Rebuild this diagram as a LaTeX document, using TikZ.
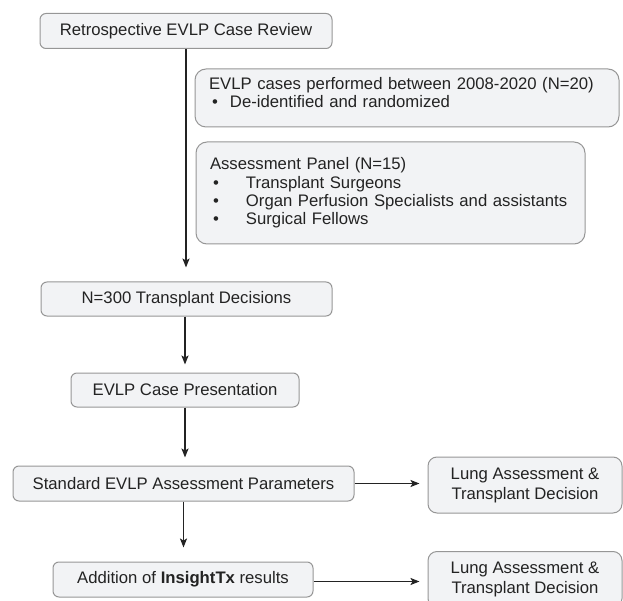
\documentclass[tikz,border=0pt]{standalone}
\usepackage{fontspec}
\setmainfont{Liberation Sans}
\usepackage{xcolor}
\usepackage{tikz}
\usetikzlibrary{positioning,arrows.meta}
\definecolor{boxfill}{RGB}{242,243,245}
\definecolor{boxline}{RGB}{150,150,150}
\definecolor{inkcolor}{RGB}{35,35,35}
\tikzset{
  flow box/.style={
    rectangle,
    rounded corners=6pt,
    draw=boxline,
    fill=boxfill,
    line width=1pt,
    text=inkcolor,
    inner sep=0pt,
    align=center,
    font=\fontsize{16.7}{19}\selectfont
  },
  note box/.style={
    flow box,
    rounded corners=11pt,
    align=left,
    inner xsep=14pt,
    font=\fontsize{16.7}{18.3}\selectfont
  },
  lung box/.style={
    flow box,
    rounded corners=9pt,
    minimum width=194pt,
    minimum height=56pt,
    font=\fontsize{16.7}{20}\selectfont
  },
  arrow/.style={
    -{Stealth[length=9pt,width=7pt,inset=2pt]},
    line width=1.3pt,
    draw=inkcolor
  }
}
\newcommand{\bulletitem}[2]{\makebox[#1][l]{\hspace{3pt}\textbullet}#2}

\begin{document}
\begin{tikzpicture}[x=1pt, y=-1pt]
  \useasboundingbox (0,0) rectangle (623,601);
  \clip (0,0) rectangle (623,601);

  % Main column
  \node[flow box, minimum width=292pt, minimum height=35pt] (review) at (186,31) {Retrospective EVLP Case Review};
  \node[flow box, minimum width=291pt, minimum height=34pt] (decisions) at (186.5,299) {N=300 Transplant Decisions};
  \node[flow box, minimum width=228pt, minimum height=34pt] (presentation) at (185,390) {EVLP Case Presentation};
  \node[flow box, minimum width=341pt, minimum height=35pt] (standard) at (183.5,483.5) {Standard EVLP Assessment Parameters};
  \node[flow box, minimum width=260pt, minimum height=35pt] (insight) at (183,579.5) {Addition of \textbf{InsightTx} results};

  % Notes beside the first arrow
  \node[note box, text width=396pt, minimum height=58pt] (cases) at (407,98)
    {EVLP cases performed between 2008-2020 (N=20)\\
     \bulletitem{21pt}{De-identified and randomized}\rule[-11pt]{0pt}{1pt}};
  \node[note box, text width=361pt, minimum height=102pt] (panel) at (390.5,193)
    {Assessment Panel (N=15)\\
     \bulletitem{36pt}{Transplant Surgeons}\\
     \bulletitem{36pt}{Organ Perfusion Specialists and assistants}\\
     \bulletitem{36pt}{Surgical Fellows}};

  % Decisions on the right
  \node[lung box, right=73pt of standard, yshift=-1.5pt] (lungA) {Lung Assessment \&\\Transplant Decision};
  \node[lung box, right=114pt of insight] (lungB) {Lung Assessment \&\\Transplant Decision};

  % Flow arrows
  \draw[arrow, shorten >=14pt] (review.south) -- (review.south |- decisions.north);
  \draw[arrow, shorten >=8pt] (decisions.south -| presentation) -- (presentation.north);
  \draw[arrow, shorten >=8pt] (presentation.south) -- (presentation.south |- standard.north);
  \draw[arrow, shorten >=14pt] (standard.south) -- (standard.south |- insight.north);

  % Side arrows
  \draw[arrow, shorten >=8pt] (standard.east) -- (standard.east -| lungA.west);
  \draw[arrow, shorten >=8pt] ([yshift=-2pt]insight.east) -- ([yshift=-2pt]insight.east -| lungB.west);

\end{tikzpicture}
\end{document}
